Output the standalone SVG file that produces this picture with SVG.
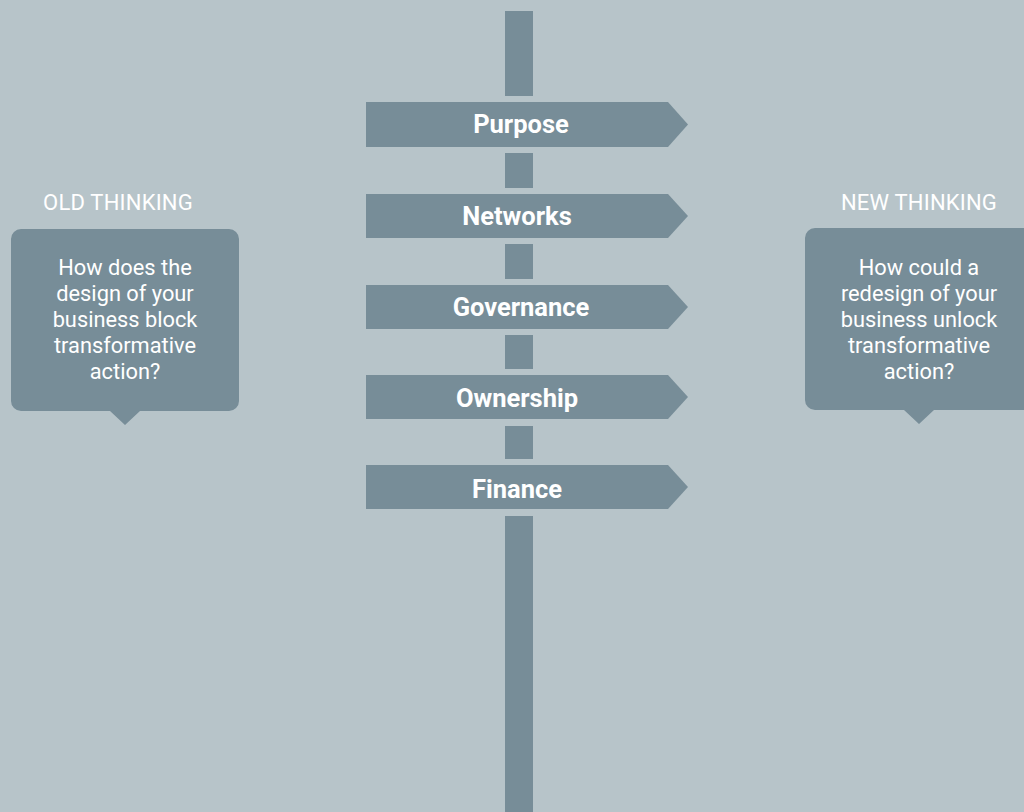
<svg xmlns="http://www.w3.org/2000/svg" width="1024" height="812" viewBox="0 0 1024 812">
<style>
.dark{fill:#778d98}
.lbl{font-family:Roboto,"Liberation Sans",sans-serif;font-weight:bold;font-size:25.5px;fill:#fff;text-anchor:middle}
.hd{font-family:Roboto,"Liberation Sans",sans-serif;font-size:22px;letter-spacing:0.2px;fill:#fff;text-anchor:middle}
.q{font-family:Roboto,"Liberation Sans",sans-serif;font-size:21.8px;fill:#fff;text-anchor:middle}
</style>
<rect width="1024" height="812" fill="#b7c4c9"/>
<g id="pole" class="dark">
<rect x="505" y="11" width="28" height="85"/>
<rect x="505" y="153" width="28" height="35"/>
<rect x="505" y="244" width="28" height="35"/>
<rect x="505" y="335" width="28" height="34"/>
<rect x="505" y="426" width="28" height="33"/>
<rect x="505" y="516" width="28" height="296"/>
</g>
<g id="connectors"></g>
<g id="purpose"><polygon class="dark" points="366,102 668,102 688,124.5 668,147 366,147"/><text class="lbl" x="521" y="133">Purpose</text></g>
<g id="networks"><polygon class="dark" points="366,194 668,194 688,216 668,238 366,238"/><text class="lbl" x="517" y="225">Networks</text></g>
<g id="governance"><polygon class="dark" points="366,285 668,285 688,307 668,329 366,329"/><text class="lbl" x="521" y="316">Governance</text></g>
<g id="ownership"><polygon class="dark" points="366,375 668,375 688,397 668,419 366,419"/><text class="lbl" x="517" y="407">Ownership</text></g>
<g id="finance"><polygon class="dark" points="366,465 668,465 688,487 668,509 366,509"/><text class="lbl" x="517" y="498">Finance</text></g>
<g id="old">
<text class="hd" x="118" y="210">OLD THINKING</text>
<path class="dark" d="M21,229 H229 A10,10 0 0 1 239,239 V401 A10,10 0 0 1 229,411 H140 L125,425 L110,411 H21 A10,10 0 0 1 11,401 V239 A10,10 0 0 1 21,229 Z"/>
<text class="q" x="125" y="275">How does the</text>
<text class="q" x="125" y="301">design of your</text>
<text class="q" x="125" y="327">business block</text>
<text class="q" x="125" y="353">transformative</text>
<text class="q" x="125" y="379">action?</text>
</g>
<g id="new">
<text class="hd" x="919" y="210">NEW THINKING</text>
<path class="dark" d="M815,228 H1024 V410 H934 L919,424 L904,410 H815 A10,10 0 0 1 805,400 V238 A10,10 0 0 1 815,228 Z"/>
<text class="q" x="919" y="275">How could a</text>
<text class="q" x="919" y="301">redesign of your</text>
<text class="q" x="919" y="327">business unlock</text>
<text class="q" x="919" y="353">transformative</text>
<text class="q" x="919" y="379">action?</text>
</g>
</svg>
